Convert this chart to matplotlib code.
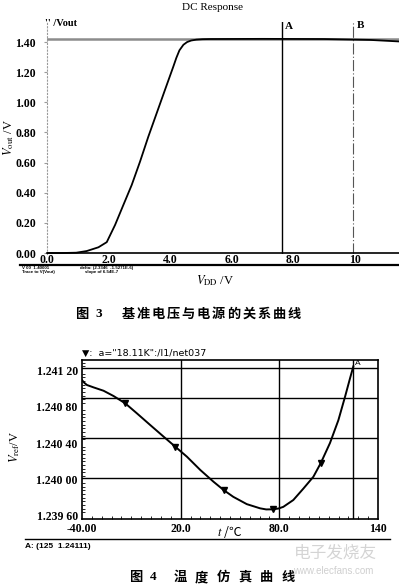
import matplotlib
matplotlib.use("Agg")
import matplotlib.pyplot as plt
from matplotlib.lines import Line2D
import numpy as np

plt.rcParams["font.family"] = ["Liberation Serif", "DejaVu Serif"]
plt.rcParams["mathtext.fontset"] = "stix"

# --- Fig 3: DC response, Vout vs VDD ---
vdd = [0.0, 0.5, 0.95, 1.29, 1.67, 1.94, 2.21, 2.48, 2.75, 3.02, 3.29, 3.56, 3.83,
       4.10, 4.20, 4.30, 4.43, 4.55, 4.68, 4.85, 5.05, 5.29, 7.0, 9.0, 10.5, 11.43]
vout = [0.0, 0.0, 0.002, 0.013, 0.038, 0.072, 0.186, 0.319, 0.451, 0.606, 0.772, 0.927, 1.082,
        1.236, 1.295, 1.345, 1.382, 1.400, 1.410, 1.416, 1.419, 1.420, 1.421, 1.420, 1.414, 1.404]
vref_level = 1.418
cursor_a = 7.64
cursor_b = 9.95
dc_xticks = [0.0, 2.0, 4.0, 6.0, 8.0, 10.0]
dc_xlabels = ["0.0", "2.0", "4.0", "6.0", "8.0", "10"]
dc_yticks = [0.0, 0.2, 0.4, 0.6, 0.8, 1.0, 1.2, 1.4]

# --- Fig 4: temperature sweep ---
temp = [-40.0, -38.6, -37.0, -33.0, -26.9, -20.8, -13.7, -6.6, 1.5, 9.6, 16.7, 23.8, 31.9,
        40.0, 46.1, 52.0, 60.2, 68.3, 72.0, 76.0, 79.5, 82.4, 88.5, 94.6, 100.7, 105.2, 110.8,
        115.9, 120.0, 123.0, 125.0]
vref = [1.24109, 1.24106, 1.241036, 1.24101, 1.240973, 1.240915, 1.240835, 1.240725,
        1.240597, 1.24047, 1.24036, 1.24025, 1.240105, 1.239975, 1.239885, 1.23981,
        1.23973, 1.239684, 1.239672, 1.239673, 1.239682, 1.2397, 1.239775, 1.2399, 1.24003,
        1.24018, 1.2404, 1.24065, 1.24091, 1.24111, 1.24124]
marker_t = [-13.7, 16.7, 46.1, 76.0, 105.2]
marker_v = [1.240835, 1.24036, 1.239885, 1.239673, 1.24018]
grid_v = [1.24002, 1.24045, 1.24089, 1.24122]
grid_t = [20.0, 80.0]
cursor_t = 125.0
tc_yticks = [1.2396, 1.2400, 1.2404, 1.2408, 1.2412]
tc_ylabels = ["1.239 60", "1.240 00", "1.240 40", "1.240 80", "1.241 20"]
tc_xticks = [-40.0, 20.0, 80.0, 140.0]
tc_xlabels = ["-40.00", "20.0", "80.0", "140"]

W, H = 399, 587
fig = plt.figure(figsize=(W / 100, H / 100), dpi=100)


def fx(px):
    return px / W


def fy(py):
    return 1 - py / H


def spaced_text(chars, x0, pitch, y, **kw):
    for i, ch in enumerate(chars):
        fig.text(fx(x0 + i * pitch), fy(y), ch, ha="center", va="center", **kw)


# top chart
ax1 = fig.add_axes([fx(47), fy(254), (W - 47) / W, (254 - 22) / H])
ax1.axhline(vref_level, color="#8c8c8c", lw=1.8, zorder=1)
ax1.plot(vdd, vout, color="black", lw=1.3, zorder=3)
ax1.axvline(cursor_a, color="black", lw=1.0, zorder=2)
ax1.axvline(cursor_b, color="#555555", lw=0.8, ls=(0, (10, 2, 1, 2)), zorder=2)
ax1.set_xlim(0, 11.43)
ax1.set_ylim(-0.0066, 1.533)
for s in ["top", "right"]:
    ax1.spines[s].set_visible(False)
ax1.spines["left"].set_color("#9a9a9a")
ax1.spines["left"].set_linestyle((0, (1, 2)))
ax1.spines["left"].set_linewidth(0.8)
ax1.spines["bottom"].set_position(("data", 0.0))
ax1.spines["bottom"].set_linewidth(1.2)
ax1.set_xticks(dc_xticks)
ax1.set_xticklabels(dc_xlabels, weight="bold")
ax1.set_yticks(dc_yticks)
ax1.set_yticklabels([f"{v:.2f}" for v in dc_yticks], weight="bold")
ax1.tick_params(axis="x", length=0, pad=1, labelsize=8.5)
ax1.tick_params(axis="y", length=2, color="#9a9a9a", pad=6, labelsize=8.5)
ax1.text(cursor_a + 0.1, 1.50, "A", fontsize=8, va="center", ha="left", weight="bold")
ax1.text(cursor_b + 0.12, 1.51, "B", fontsize=8, va="center", ha="left", weight="bold")

fig.text(fx(213), fy(8), "DC Response", ha="center", va="center", fontsize=8)
fig.text(fx(45), fy(24), "'' /Vout", ha="left", va="center", fontsize=7.5, weight="bold")
fig.text(fx(9), fy(138), r"$V_{\rm out}$ /V", rotation=90, ha="center", va="center", fontsize=9)
fig.text(fx(215), fy(281), r"$V_{\rm DD}$ /V", ha="center", va="center", fontsize=9)
fig.add_artist(Line2D([fx(20), fx(399)], [fy(264.5), fy(264.5)], color="black", lw=1.6))
fig.text(fx(22), fy(270), "V 00  1.40001\nTrace to V(Vout)", ha="left", va="center",
         fontsize=3.2, family=["Liberation Sans"], weight="bold", linespacing=0.9)
fig.text(fx(80), fy(270), "delta: (2.3346  -1.5271E-6)\n    slope of 6.54E-7", ha="left",
         va="center", fontsize=3.2, family=["Liberation Sans"], weight="bold", linespacing=0.9)

cjk = ["Noto Sans CJK SC", "DejaVu Sans"]
spaced_text("图", 82, 0, 314, fontsize=9.5, family=cjk, weight="bold")
fig.text(fx(99), fy(314), "3", ha="center", va="center", fontsize=9.5, weight="bold")
spaced_text("基准电压与电源的关系曲线", 128, 15.1, 314, fontsize=9.5, family=cjk, weight="bold")

# bottom chart
ax2 = fig.add_axes([fx(82), fy(519), (378 - 82) / W, (519 - 360) / H])
for g in grid_v:
    ax2.axhline(g, color="black", lw=1.0, zorder=1)
for g in grid_t:
    ax2.axvline(g, color="black", lw=1.0, zorder=1)
ax2.axvline(cursor_t, color="black", lw=1.0, zorder=1)
ax2.plot(temp, vref, color="black", lw=1.4, zorder=3)
ax2.plot(marker_t, marker_v, ls="none", marker="v", ms=4, color="black", zorder=4)
ax2.set_xlim(-40, 140)
ax2.set_ylim(1.239567, 1.24131)
for s in ax2.spines.values():
    s.set_linewidth(1.2)
ax2.set_xticks(tc_xticks)
ax2.set_xticklabels(tc_xlabels, weight="bold")
ax2.set_yticks(tc_yticks)
ax2.set_yticklabels(tc_ylabels, weight="bold")
ax2.set_xticks(np.arange(-40, 141, 6), minor=True)
ax2.set_yticks(np.arange(1.2396, 1.24131, 0.00004), minor=True)
ax2.tick_params(which="major", length=0, pad=3, labelsize=8.5)
ax2.tick_params(which="minor", direction="in", length=2, width=0.6)
ax2.text(cursor_t + 0.8, 1.24127, "A", fontsize=6, family=["Liberation Sans"], va="center")

fig.text(fx(82), fy(353), "\u25bc:  a=\"18.11K\":/I1/net037", ha="left", va="center",
         fontsize=6.8, family=["DejaVu Sans"])
fig.text(fx(15), fy(447), r"$V_{\rm ref}$/V", rotation=90, ha="center", va="center", fontsize=9)
fig.text(fx(230), fy(532), r"$t$ /℃", ha="center", va="center", fontsize=9,
         family=["Noto Sans CJK SC", "DejaVu Sans"])
fig.add_artist(Line2D([fx(25), fx(390)], [fy(539), fy(539)], color="black", lw=1.0))
fig.text(fx(25), fy(547), "A: (125  1.24111)", ha="left", va="center", fontsize=6,
         family=["Liberation Sans"], weight="bold")

# watermark
fig.text(fx(335), fy(553), "电子发烧友", ha="center", va="center", fontsize=12,
         family=cjk, color="#d4d4d4", style="italic")
fig.text(fx(333), fy(571), "www.elecfans.com", ha="center", va="center", fontsize=7,
         family=["Liberation Sans"], color="#cfcfcf")

spaced_text("图", 136, 0, 577, fontsize=9.5, family=cjk, weight="bold")
fig.text(fx(153), fy(577), "4", ha="center", va="center", fontsize=9.5, weight="bold")
spaced_text("温度仿真曲线", 180, 21.7, 577, fontsize=9.5, family=cjk, weight="bold")

fig.savefig("out.png", dpi=100)
